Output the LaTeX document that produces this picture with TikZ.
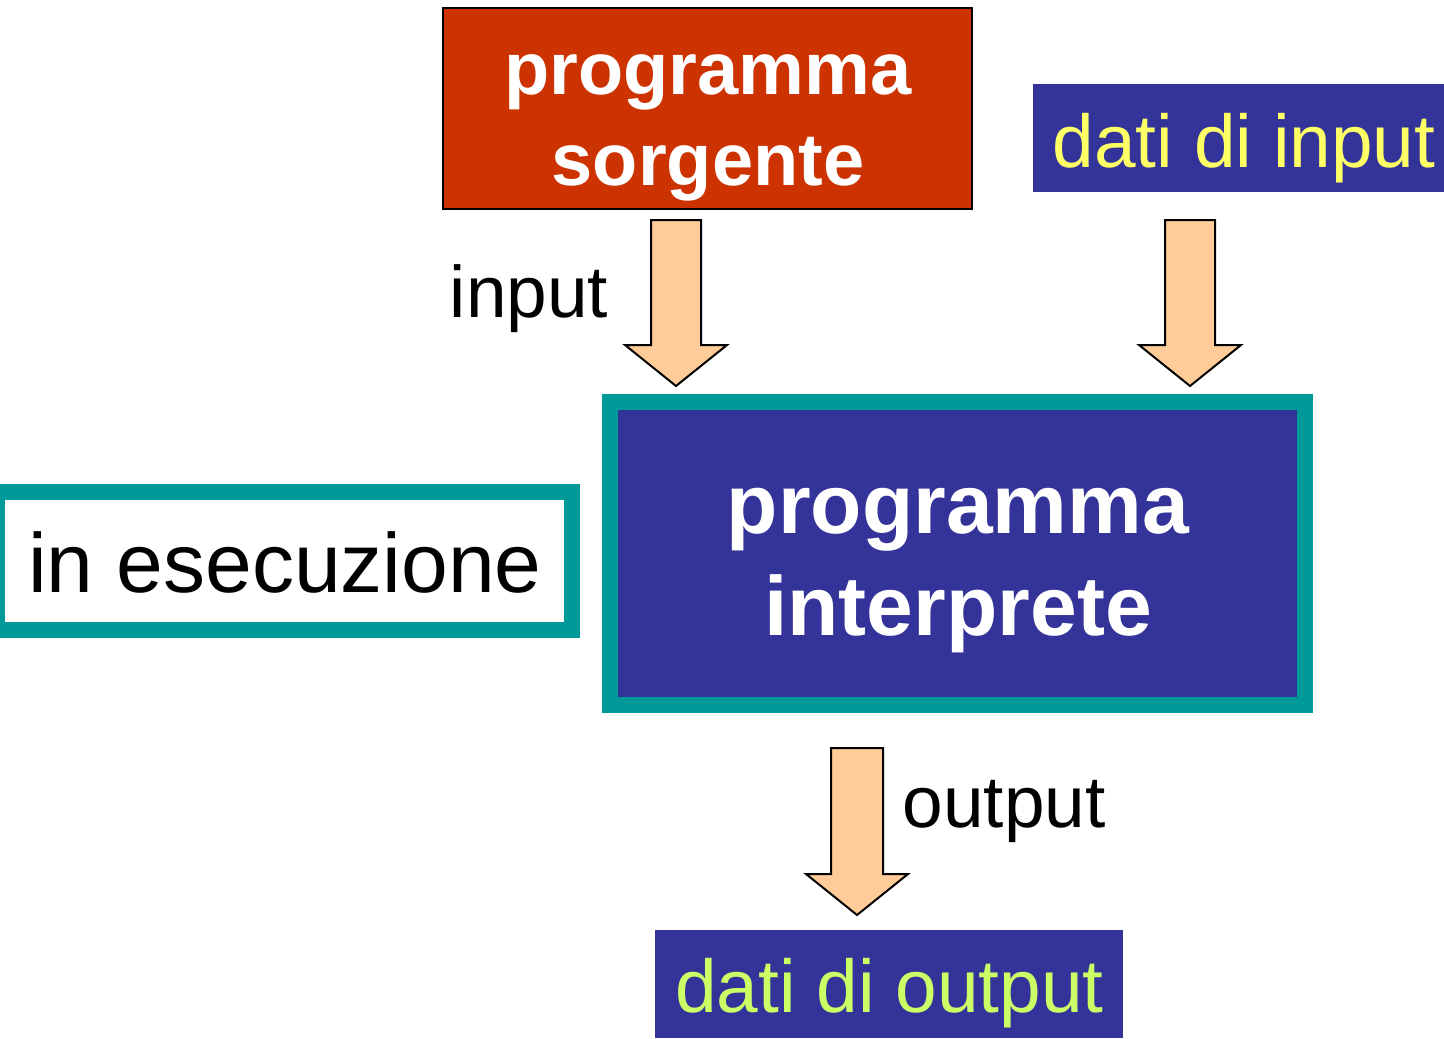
\documentclass[tikz,border=0pt]{standalone}
\usepackage{fontspec}
\setmainfont{Liberation Sans}
\definecolor{srcred}{HTML}{CC3300}
\definecolor{navy}{HTML}{333399}
\definecolor{teal2}{HTML}{009999}
\definecolor{peach}{HTML}{FFCC99}
\definecolor{yel}{HTML}{FFFF66}
\definecolor{lgreen}{HTML}{CCFF66}
\begin{document}
\begin{tikzpicture}[x=0.5pt,y=-0.5pt,
  box/.style={inner sep=0pt, outer sep=0pt},
  txt/.style={inner sep=0pt, outer sep=0pt, align=center, anchor=base},
  lbltxt/.style={font=\fontsize{36.5}{44}\selectfont},
  datatxt/.style={font=\fontsize{37.4}{44}\selectfont},
  blockarrow/.style={fill=peach, draw=black, line width=1pt, line join=miter}]
\useasboundingbox (0,0) rectangle (1444,1038);
\clip (0,0) rectangle (1444,1038);

% boxes
\node[box, fill=srcred, draw=black, line width=1pt,
      minimum width=264.5pt, minimum height=100.5pt] (src) at (707.5,108.5) {};
\node[box, fill=navy, minimum width=211pt, minimum height=54pt] (din) at (1244,138) {};
\node[box, fill=navy, draw=teal2, line width=8pt,
      minimum width=347.5pt, minimum height=151.5pt] (interp) at (957.5,553.5) {};
\node[box, fill=white, draw=teal2, line width=8pt,
      minimum width=287.5pt, minimum height=69pt] (exec) at (284.5,561) {};
\node[box, fill=navy, minimum width=234pt, minimum height=54pt] (dout) at (889,984) {};

% texts (base anchor = baseline of the last line)
\node[txt, text=white, font=\fontsize{37}{45.5}\selectfont\bfseries]
  (srctxt) at (708,185) {programma\\sorgente};
\node[txt, datatxt, text=yel] (dintxt) at (1244,167) {dati di input};
\node[txt, text=white, font=\fontsize{42}{51}\selectfont\bfseries]
  (interptxt) at (958,635) {programma\\interprete};
\node[txt, text=black, font=\fontsize{42}{50}\selectfont] (exectxt) at (285,592) {in esecuzione};
\node[txt, datatxt, text=lgreen] (douttxt) at (889.5,1012) {dati di output};
\node[txt, lbltxt] (linput) at (529,317) {input};
\node[txt, lbltxt] (loutput) at (1004,827) {output};

% block arrows
\draw[blockarrow] (651,220) -- (701,220) -- (701,345) -- (727,345) -- (676,386)
  -- (625,345) -- (651,345) -- cycle;
\draw[blockarrow] (1165,220) -- (1215,220) -- (1215,345) -- (1241,345) -- (1190,386)
  -- (1139,345) -- (1165,345) -- cycle;
\draw[blockarrow] (831,748) -- (883,748) -- (883,874) -- (908,874) -- (857,915)
  -- (806,874) -- (831,874) -- cycle;
\end{tikzpicture}
\end{document}
